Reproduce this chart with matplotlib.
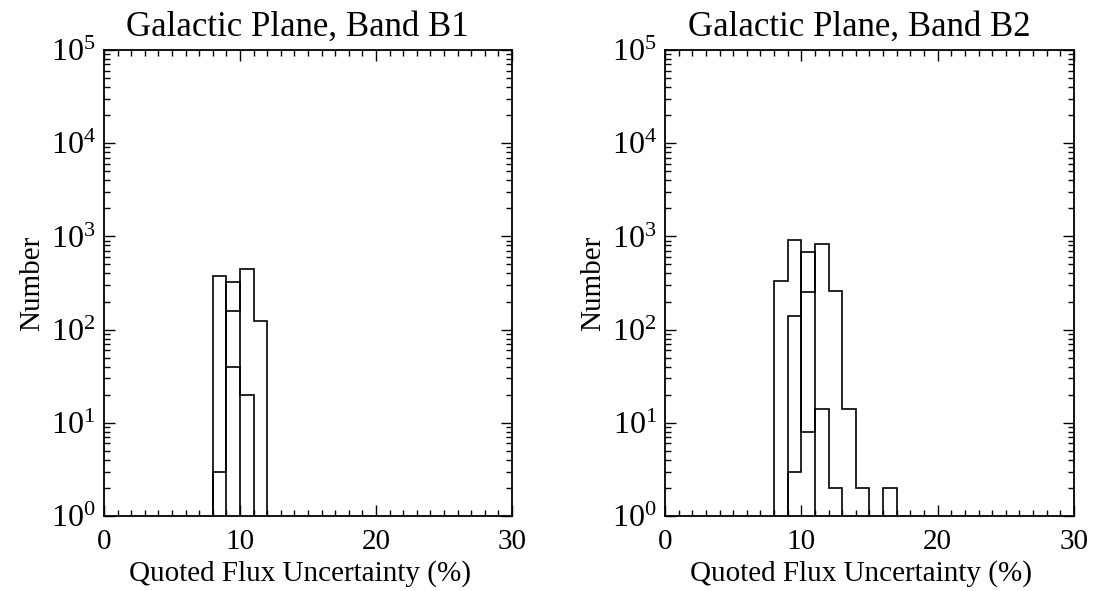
import numpy as np
import matplotlib
matplotlib.use("Agg")
import matplotlib.pyplot as plt
from matplotlib.ticker import MultipleLocator, LogLocator, LogFormatterSciNotation, NullFormatter

plt.rcParams["font.family"] = ["Liberation Serif", "DejaVu Serif"]
plt.rcParams["mathtext.fontset"] = "custom"
plt.rcParams["mathtext.rm"] = "Liberation Serif"
plt.rcParams["mathtext.it"] = "Liberation Serif:italic"

# bin edges (percent) and counts, one row per histogram
edges_b1 = np.arange(8, 13)
b1_a = [380, 40, 20, 0]
b1_b = [3, 326, 0, 0]
b1_c = [0, 160, 447, 125]

edges_b2 = np.arange(8, 18)
b2_a = [330, 906, 8, 14, 2, 0, 0, 0, 0]
b2_b = [0, 3, 673, 0, 0, 0, 0, 0, 0]
b2_c = [0, 141, 251, 836, 262, 14, 2, 0, 2]

titles = ["Galactic Plane, Band B1", "Galactic Plane, Band B2"]
floor = 0.1  # empty bins drawn below the axis

fig = plt.figure(figsize=(10.93, 5.91), dpi=100)
ax1 = fig.add_axes([0.0951, 0.1269, 0.3733, 0.7885])
ax2 = fig.add_axes([0.6084, 0.1269, 0.3742, 0.7885])

panels = [(ax1, edges_b1, [b1_a, b1_b, b1_c]), (ax2, edges_b2, [b2_a, b2_b, b2_c])]
for (ax, edges, hists), title in zip(panels, titles):
    for h in hists:
        v = np.array(h, dtype=float)
        v[v <= 0] = floor
        ax.stairs(v, edges, baseline=floor, color="black", lw=1.2)
    ax.set_yscale("log")
    ax.set_xlim(0, 30)
    ax.set_ylim(1, 1e5)
    ax.xaxis.set_major_locator(MultipleLocator(10))
    ax.xaxis.set_minor_locator(MultipleLocator(1))
    ax.yaxis.set_major_locator(LogLocator(base=10, numticks=10))
    ax.yaxis.set_minor_locator(LogLocator(base=10, subs=np.arange(2, 10), numticks=10))
    ax.yaxis.set_major_formatter(LogFormatterSciNotation())
    ax.yaxis.set_minor_formatter(NullFormatter())
    ax.tick_params(which="both", direction="in", top=True, right=True, width=1.0)
    ax.tick_params(which="major", length=8)
    ax.tick_params(which="minor", length=4)
    ax.tick_params(axis="x", pad=9, labelsize=21)
    ax.tick_params(axis="y", pad=6, labelsize=23)
    for s in ax.spines.values():
        s.set_linewidth(1.3)
    ax.set_title(title, fontsize=25, pad=10, x=0.475)
    ax.set_xlabel("Quoted Flux Uncertainty (%)", fontsize=21, labelpad=4, x=0.48)
    ax.set_ylabel("Number", fontsize=21, labelpad=4)

fig.savefig("out.png", dpi=100)
